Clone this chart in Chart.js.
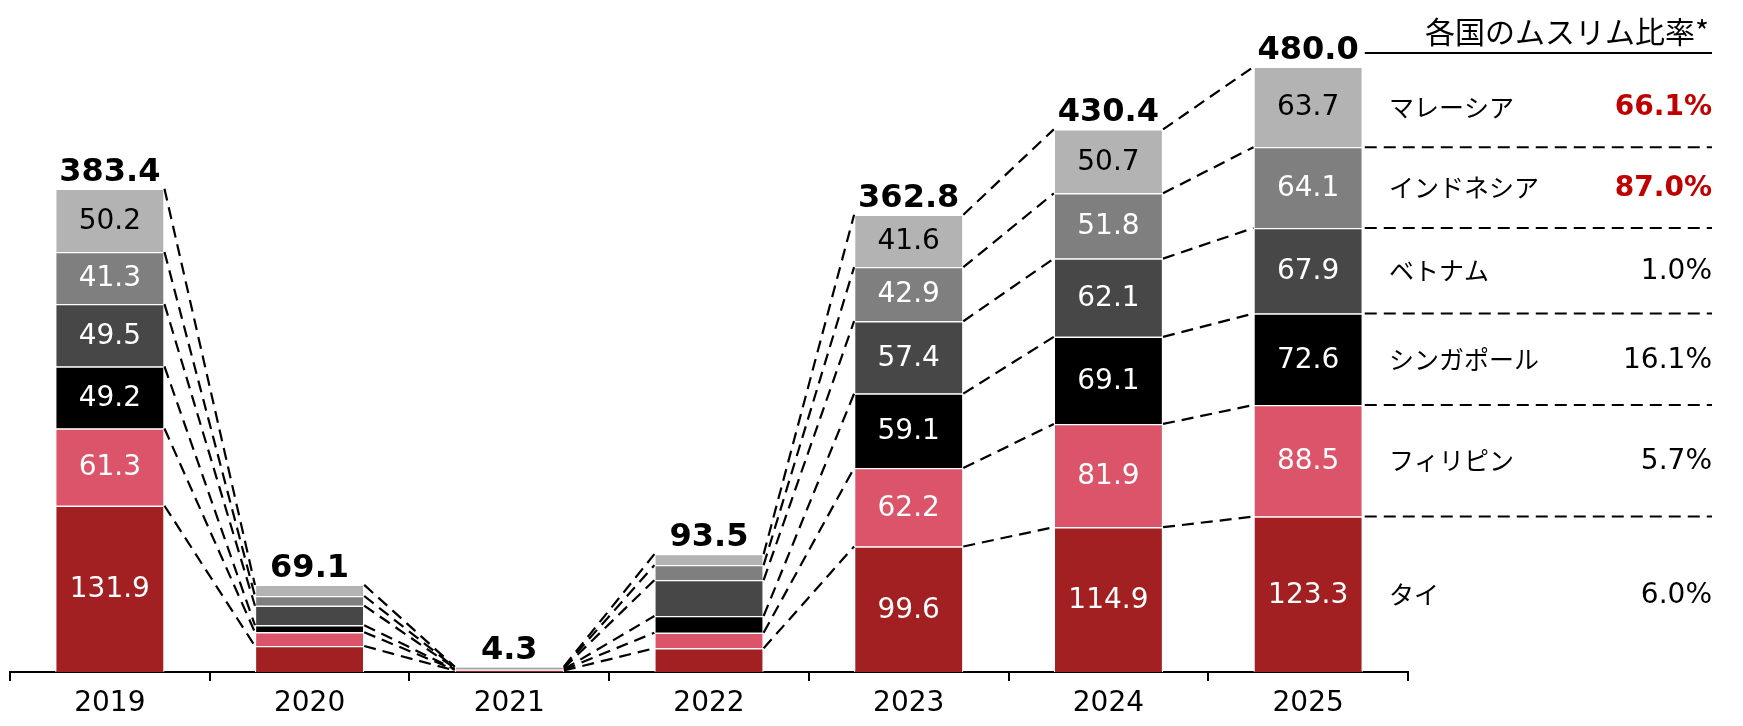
<!DOCTYPE html>
<html>
<head>
<meta charset="utf-8">
<script src="https://cdn.jsdelivr.net/npm/chart.js@4"></script>
<style>
  html, body { margin: 0; padding: 0; background: #fff; }
  canvas { display: block; }
</style>
</head>
<body>
<canvas id="myChart" width="1743" height="726"></canvas>
<script>
const years = ['2019', '2020', '2021', '2022', '2023', '2024', '2025'];
const countries = ['タイ', 'フィリピン', 'シンガポール', 'ベトナム', 'インドネシア', 'マレーシア'];
const thai = [131.9, 20.6, 1.2, 18.8, 99.6, 114.9, 123.3];
const philippines = [61.3, 10.9, 0.6, 12.4, 62.2, 81.9, 88.5];
const singapore = [49.2, 5.6, 0.4, 13.2, 59.1, 69.1, 72.6];
const vietnam = [49.5, 15.5, 1.0, 28.5, 57.4, 62.1, 67.9];
const indonesia = [41.3, 7.7, 0.5, 11.9, 42.9, 51.8, 64.1];
const malaysia = [50.2, 8.8, 0.6, 8.7, 41.6, 50.7, 63.7];
const totals = [383.4, 69.1, 4.3, 93.5, 362.8, 430.4, 480.0];
const showValues = [true, false, false, false, true, true, true];
const muslimShare = [6.0, 5.7, 16.1, 1.0, 87.0, 66.1];
const headerTitle = '各国のムスリム比率*';

const colors = ['#A21F22', '#DC546A', '#000000', '#474747', '#7F7F7F', '#B3B3B3'];
const textColors = ['#fff', '#fff', '#fff', '#fff', '#fff', '#000'];
const series = [thai, philippines, singapore, vietnam, indonesia, malaysia];

const numFont = '"DejaVu Sans", "Noto Sans CJK JP", sans-serif';
const jpFont = '"Noto Sans CJK JP", sans-serif';

const overlay = {
    id: 'overlay',
    afterDatasetsDraw(chart) {
        const c = chart.ctx;
        const metas = series.map((s, d) => chart.getDatasetMeta(d));
        c.save();

        // dashed connectors between neighbouring bars
        c.strokeStyle = '#000';
        c.lineWidth = 2.2;
        c.setLineDash([12, 7]);
        for (let i = 0; i < years.length - 1; i++) {
            metas.forEach(m => {
                const a = m.data[i], b = m.data[i + 1];
                c.beginPath();
                c.moveTo(a.x + a.width / 2, a.y);
                c.lineTo(b.x - b.width / 2, b.y);
                c.stroke();
            });
        }

        // value labels inside segments
        c.setLineDash([]);
        c.textAlign = 'center';
        c.textBaseline = 'middle';
        c.font = '28px ' + numFont;
        metas.forEach((m, d) => {
            m.data.forEach((el, i) => {
                if (!showValues[i]) return;
                c.fillStyle = textColors[d];
                c.fillText(series[d][i].toFixed(1), el.x, (el.y + el.base) / 2 + 1);
            });
        });

        // totals on top
        c.fillStyle = '#000';
        c.font = 'bold 32px ' + numFont;
        c.textBaseline = 'alphabetic';
        const top = metas[metas.length - 1];
        top.data.forEach((el, i) => {
            c.fillText(totals[i].toFixed(1), el.x, el.y - 8);
        });

        // side table
        const last = years.length - 1;
        const lastBar = top.data[last];
        const x0 = lastBar.x + lastBar.width / 2 + 2;
        const x1 = 1712;
        c.lineWidth = 2;
        c.beginPath();
        c.moveTo(x0, 53);
        c.lineTo(x1, 53);
        c.stroke();
        c.font = '30px ' + jpFont;
        c.textAlign = 'center';
        c.fillText(headerTitle, 1567, 43);

        c.setLineDash([12, 7]);
        for (let d = 0; d < metas.length - 1; d++) {
            const y = metas[d].data[last].y;
            c.beginPath();
            c.moveTo(x0, y);
            c.lineTo(x1, y);
            c.stroke();
        }
        c.setLineDash([]);
        c.textBaseline = 'middle';
        metas.forEach((m, d) => {
            const el = m.data[last];
            const yc = (el.y + el.base) / 2;
            c.textAlign = 'left';
            c.fillStyle = '#000';
            c.font = '25px ' + jpFont;
            c.fillText(countries[d], 1389, yc);
            c.textAlign = 'right';
            const hi = muslimShare[d] > 50;
            c.fillStyle = hi ? '#C00000' : '#000';
            c.font = (hi ? 'bold ' : '') + '28px ' + numFont;
            c.fillText(muslimShare[d].toFixed(1) + '%', x1, yc + 1);
        });
        c.restore();
    }
};

new Chart(document.getElementById('myChart'), {
    type: 'bar',
    data: {
        labels: years,
        datasets: series.map((s, d) => ({
            label: countries[d],
            data: s,
            backgroundColor: colors[d],
            borderColor: '#fff',
            borderWidth: 1.2,
            clip: false
        }))
    },
    options: {
        responsive: false,
        animation: false,
        layout: { padding: { left: 10, right: 335, top: 67, bottom: 0 } },
        plugins: { legend: { display: false }, tooltip: { enabled: false } },
        datasets: { bar: { categoryPercentage: 1, barPercentage: 0.547 } },
        scales: {
            x: {
                stacked: true,
                afterFit(scale) { scale.height = 54; },
                grid: { drawOnChartArea: false, color: '#000', lineWidth: 2, tickLength: 9 },
                border: { color: '#000', width: 2 },
                ticks: { color: '#000', font: { family: numFont, size: 28 }, padding: 6 }
            },
            y: {
                stacked: true,
                display: false,
                min: 0,
                max: 480
            }
        }
    },
    plugins: [overlay]
});
</script>
</body>
</html>
